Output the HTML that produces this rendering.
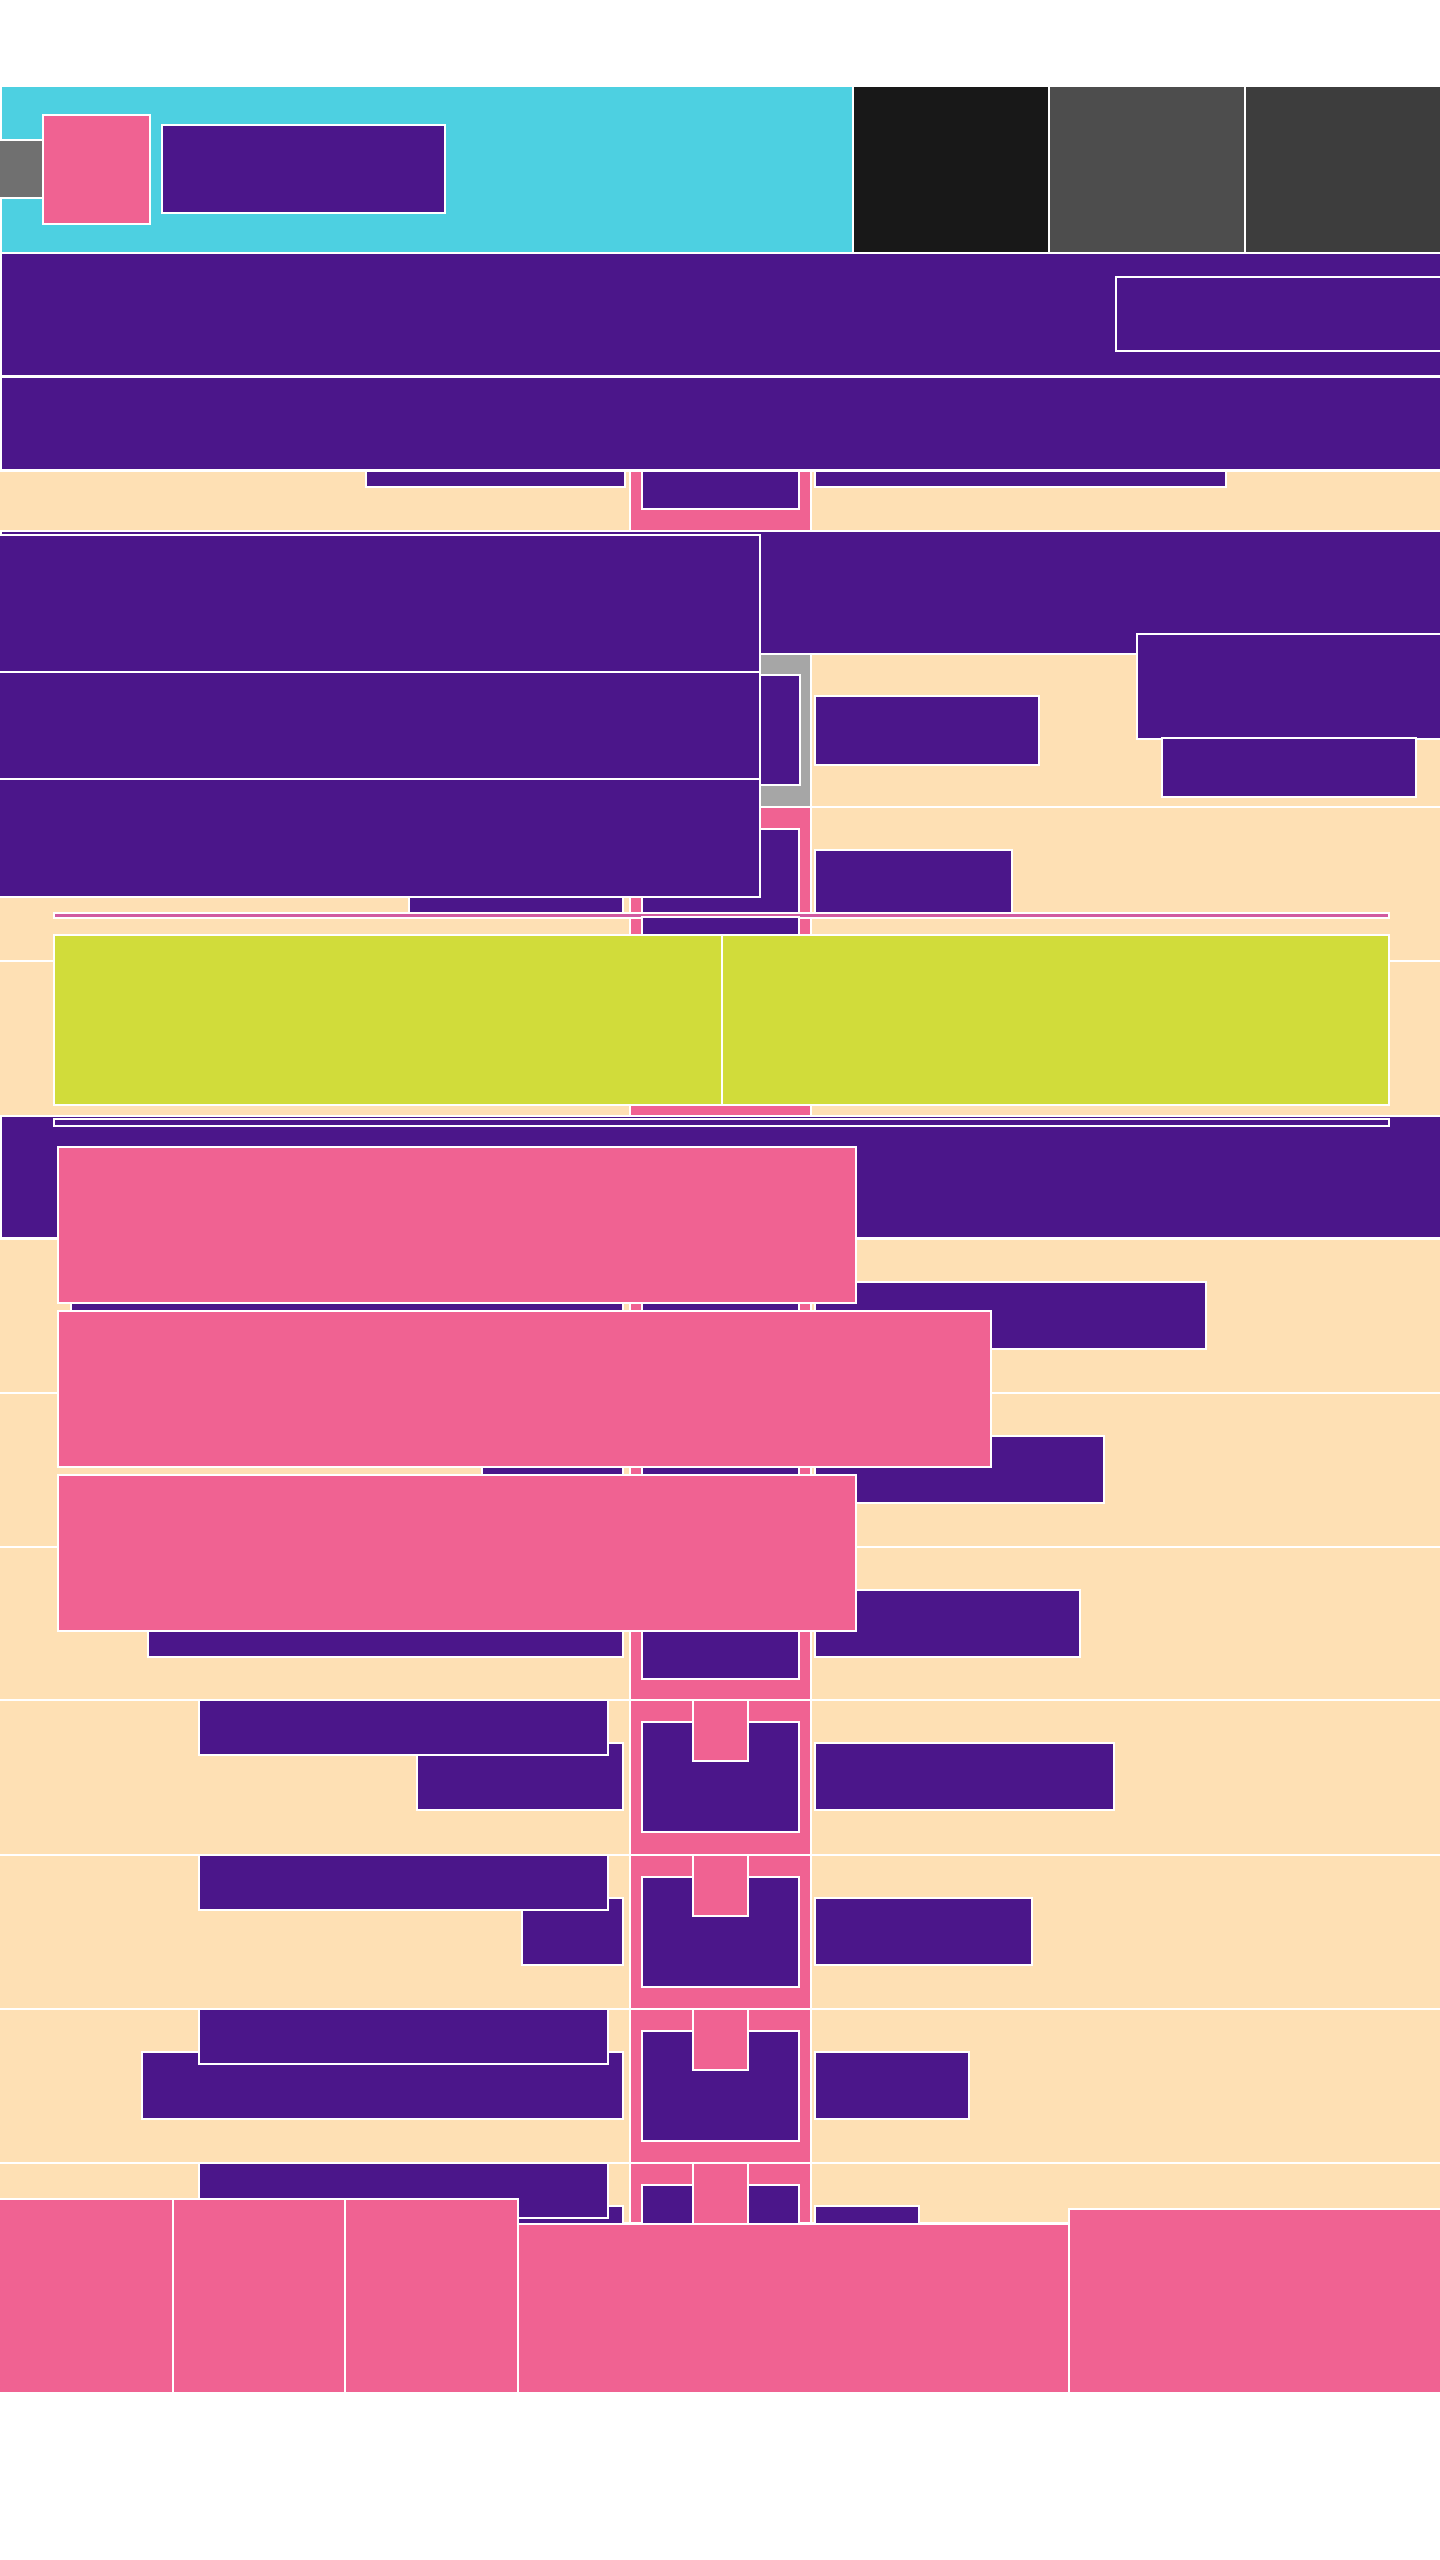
<!DOCTYPE html>
<html><head><meta charset="utf-8"><style>
html,body{margin:0;padding:0;background:#fff;}
#root{position:relative;width:1440px;height:2560px;overflow:hidden;background:#fff;font-family:"Liberation Sans",sans-serif;}
.r{position:absolute;box-sizing:border-box;border:2px solid #fff;}
.p{background:#4b168a}.k{background:#f06292}.b{background:#fee0b4}.c{background:#4dd0e1}.l{background:#d1dc3a}
</style></head><body>
<div id="root">
<!-- header -->
<div class="r c" style="left:0;top:85px;width:854px;height:169px"></div>
<div class="r" style="left:852px;top:85px;width:198px;height:169px;background:#181818"></div>
<div class="r" style="left:1048px;top:85px;width:198px;height:169px;background:#4d4d4d"></div>
<div class="r" style="left:1244px;top:85px;width:198px;height:169px;background:#3d3d3d"></div>
<div class="r" style="left:-2px;top:139px;width:47px;height:60px;background:#707070"></div>
<div class="r k" style="left:42px;top:114px;width:109px;height:111px"></div>
<div class="r p" style="left:161px;top:124px;width:285px;height:90px"></div>
<!-- purple bands -->
<div class="r p" style="left:0;top:252px;width:1442px;height:125px"></div>
<div class="r p" style="left:1115px;top:276px;width:330px;height:76px"></div>
<div class="r p" style="left:0;top:376px;width:1442px;height:95px"></div>
<div id="rows"></div>
<!-- overlays -->
<div class="r p" style="left:0;top:530px;width:1442px;height:125px"></div>
<div class="r" style="left:631px;top:653px;width:181px;height:155px;background:#a6a6a6"></div>
<div class="r p" style="left:640px;top:674px;width:161px;height:112px"></div>
<div class="r p" style="left:814px;top:695px;width:226px;height:71px"></div>
<div class="r p" style="left:1136px;top:633px;width:306px;height:107px"></div>
<div class="r p" style="left:1161px;top:737px;width:256px;height:61px"></div>
<div class="r p" style="left:-2px;top:534px;width:763px;height:139px"></div>
<div class="r p" style="left:-2px;top:671px;width:763px;height:109px"></div>
<div class="r p" style="left:-2px;top:778px;width:763px;height:120px"></div>
<div class="r" style="left:53px;top:912px;width:1337px;height:7px;background:#d15aa0"></div>
<div class="r p" style="left:641px;top:916px;width:159px;height:20px"></div>
<div class="r l" style="left:53px;top:934px;width:670px;height:172px"></div>
<div class="r l" style="left:721px;top:934px;width:669px;height:172px"></div>
<div class="r p" style="left:0;top:1115px;width:1442px;height:124px"></div>
<div class="r" style="left:53px;top:1118px;width:1337px;height:9px;background:#4b168a"></div>
<div class="r k" style="left:57px;top:1146px;width:800px;height:158px"></div>
<div class="r k" style="left:57px;top:1310px;width:935px;height:158px"></div>
<div class="r k" style="left:57px;top:1474px;width:800px;height:158px"></div>
<!-- footer -->
<div class="r k" style="left:-2px;top:2198px;width:176px;height:196px"></div>
<div class="r k" style="left:172px;top:2198px;width:174px;height:196px"></div>
<div class="r k" style="left:344px;top:2198px;width:175px;height:196px"></div>
<div class="r k" style="left:517px;top:2223px;width:553px;height:171px"></div>
<div class="r k" style="left:1068px;top:2208px;width:374px;height:186px"></div>
</div>
<script>
const rowTops=[808,962,1240,1394,1548,1701,1856,2010,2164];
const leftStart=[410,300,72,483,149,418,523,143,519];
const rightEnd=[1011,1070,1205,1103,1079,1113,1031,968,918];
const hasNotch=[0,0,0,0,0,1,1,1,1];
const holder=document.getElementById('rows');
function mk(cls,x,y,w,h){const d=document.createElement('div');d.className='r '+cls;d.style.cssText='left:'+x+'px;top:'+y+'px;width:'+w+'px;height:'+h+'px';holder.appendChild(d);return d;}
let e;
e=mk('b',-2,470,1446,63);


e=mk('k',629,470,183,63);


e=mk('p',641,470,159,40);


e=mk('p',365,470,261,18);


e=mk('p',814,470,413,18);


e=mk('b',-2,652,1446,157);


rowTops.forEach((t,i)=>{
  const h=(i<rowTops.length-1)?Math.min(rowTops[i+1]-t,156)+2:62;
  let d=mk('b',-2,t-2,1446,h);
  
  
  d=mk('k',629,t-2,183,h);
  
  
  d=mk('p',641,t+20,159,112);
  
  
  if(hasNotch[i]){
    d=mk('k',692,t-2,57,63);
    
    
    d=mk('p',198,t-2,411,57);
    
    
  }
  d=mk('p',leftStart[i]-2,t+41,626-leftStart[i],69);
  
  
  if(hasNotch[i]) holder.appendChild(holder.children[holder.children.length-2]);
  d=mk('p',814,t+41,rightEnd[i]-812,69);
  
  
});
</script>
</body></html>
